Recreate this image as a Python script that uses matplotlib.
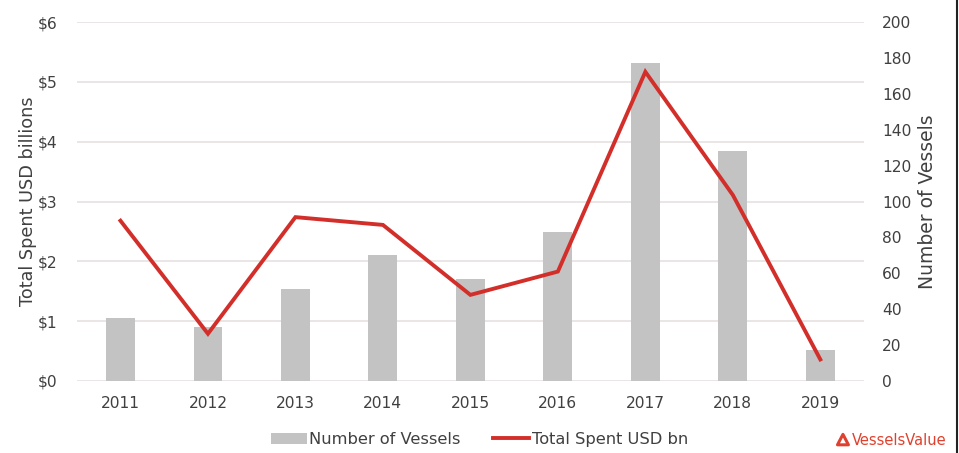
import matplotlib
matplotlib.use("Agg")
import matplotlib.pyplot as plt
from matplotlib.lines import Line2D
from matplotlib.patches import Patch, Polygon
import numpy as np

years = ["2011", "2012", "2013", "2014", "2015", "2016", "2017", "2018", "2019"]
vessels = [35, 30, 51, 70, 57, 83, 177, 128, 17]
spent_bn = [2.68, 0.79, 2.74, 2.61, 1.44, 1.83, 5.17, 3.11, 0.36]

left_ticks = [0, 1, 2, 3, 4, 5, 6]
left_labels = ["$0", "$1", "$2", "$3", "$4", "$5", "$6"]
right_ticks = list(range(0, 201, 20))

TEXT = "#404040"
BAR = "#c3c3c3"
RED = "#d32f2a"
GRID = "#e6e1e1"

fig = plt.figure(figsize=(9.59, 4.53), dpi=100)
ax = fig.add_axes([0.080, 0.159, 0.821, 0.792])
ax2 = ax.twinx()

x = np.arange(len(years))

# vessel counts on the right-hand scale
ax2.bar(x, vessels, width=0.33, color=BAR, zorder=2)
ax2.set_ylim(0, 200)
ax2.set_yticks(right_ticks)
ax2.set_ylabel("Number of Vessels", fontsize=13.5, color=TEXT, labelpad=5)

# spend line on the left-hand scale, drawn above the bars
ax.set_zorder(ax2.get_zorder() + 1)
ax.patch.set_visible(False)
ax.plot(x, spent_bn, color=RED, lw=2.8, solid_joinstyle="miter", zorder=3)
ax.set_ylim(0, 6)
ax.set_yticks(left_ticks)
ax.set_yticklabels(left_labels)
ax.set_ylabel("Total Spent USD billions", fontsize=12.7, color=TEXT, labelpad=0)
ax.set_xlim(-0.5, len(years) - 0.5)
ax.set_xticks(x)
ax.set_xticklabels(years)

for gy in left_ticks:
    ax2.axhline(gy * 200 / 6, color=GRID, lw=1.2, zorder=1)

for a in (ax, ax2):
    for s in a.spines.values():
        s.set_visible(False)
    a.tick_params(length=0, labelsize=11.2, colors=TEXT)
ax.tick_params(axis="y", pad=14)
ax.tick_params(axis="x", pad=11)
ax2.tick_params(axis="y", pad=13)

handles = [Patch(facecolor=BAR, edgecolor="none"),
           Line2D([0], [0], color=RED, lw=2.8)]
fig.legend(handles, ["Number of Vessels", "Total Spent USD bn"],
           loc="center", bbox_to_anchor=(0.50, 0.03), ncol=2, frameon=False,
           fontsize=11.7, labelcolor=TEXT, handlelength=2.2, handletextpad=0.15,
           columnspacing=2.0)

# brand mark in the lower-right corner
logo = fig.add_axes([0.871, 0.012, 0.016, 0.034])
logo.axis("off")
logo.add_patch(Polygon([[0.5, 1.0], [0.0, 0.05], [1.0, 0.05]], closed=True,
                       facecolor="none", edgecolor="#e0412e", lw=2.2,
                       joinstyle="round"))
logo.set_xlim(-0.2, 1.2)
logo.set_ylim(-0.2, 1.2)
fig.text(0.888, 0.028, "VesselsValue", color="#e0412e", fontsize=10.5,
         va="center", ha="left", family="Liberation Sans Narrow")

fig.add_artist(Line2D([0.998, 0.998], [0, 1], color="#222222", lw=1.5,
                      transform=fig.transFigure))

fig.savefig("out.png", dpi=100, facecolor="white")
